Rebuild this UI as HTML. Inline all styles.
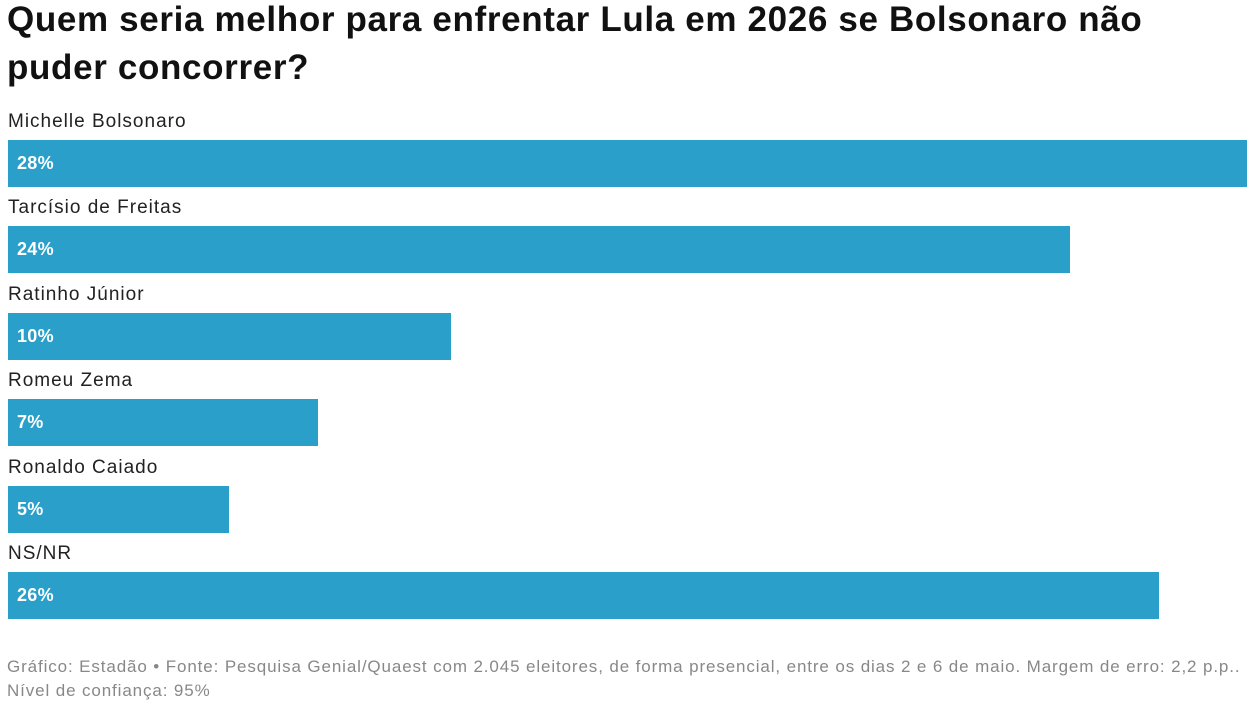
<!DOCTYPE html>
<html><head><meta charset="utf-8"><style>
body{margin:0;width:1255px;height:703px;background:#fff;font-family:"Liberation Sans",Arial,sans-serif;overflow:hidden;position:relative}
h1{position:absolute;left:7px;top:-4px;margin:0;font-size:35px;line-height:48px;font-weight:bold;color:#111;width:1180px;letter-spacing:0.65px}
.lbl{position:absolute;left:8px;font-size:19px;color:#222;letter-spacing:1px}
.bar{position:absolute;left:8px;height:47px;background:#2a9fca}
.val{position:absolute;left:17px;font-size:18px;font-weight:bold;color:#fff;letter-spacing:0.3px}
.foot{position:absolute;left:7px;top:655px;font-size:17px;line-height:24px;color:#888;letter-spacing:0.88px;white-space:nowrap}
</style></head><body>
<h1>Quem seria melhor para enfrentar Lula em 2026 se Bolsonaro não puder concorrer?</h1>
<div id="chart"></div>
<div class="foot">Gráfico: Estadão • Fonte: Pesquisa Genial/Quaest com 2.045 eleitores, de forma presencial, entre os dias 2 e 6 de maio. Margem de erro: 2,2 p.p..<br>Nível de confiança: 95%</div>
<script>
const categories=["Michelle Bolsonaro","Tarcísio de Freitas","Ratinho Júnior","Romeu Zema","Ronaldo Caiado","NS/NR"];
const values=[28,24,10,7,5,26];
const maxV=28, fullW=1239, top0=140, step=86.4;
function xs(v){return v/maxV*fullW;}
const c=document.getElementById('chart');
categories.forEach((cat,i)=>{
  const y=top0+i*step;
  const l=document.createElement('div');l.className='lbl';l.style.top=(y-29)+'px';l.textContent=cat;
  
  
  c.appendChild(l);
  const b=document.createElement('div');b.className='bar';b.style.top=y+'px';b.style.width=xs(values[i])+'px';
  
  
  c.appendChild(b);
  const v=document.createElement('div');v.className='val';v.style.top=(y+13)+'px';v.textContent=values[i]+'%';
  
  
  c.appendChild(v);
});
</script>
</body></html>
